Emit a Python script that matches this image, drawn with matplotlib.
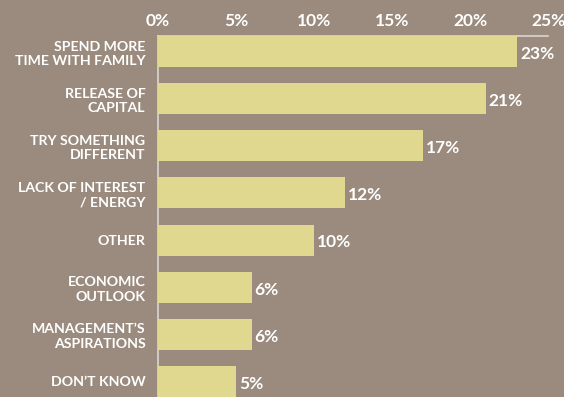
"""Reasons for selling: horizontal bar chart."""

import matplotlib
matplotlib.use("Agg")
import matplotlib.pyplot as plt

BG = "#9a8b7e"
BAR = "#e0d88f"
LINE = "#dcd6cf"

categories = [
    "SPEND MORE\nTIME WITH FAMILY",
    "RELEASE OF\nCAPITAL",
    "TRY SOMETHING\nDIFFERENT",
    "LACK OF INTEREST\n/ ENERGY",
    "OTHER",
    "ECONOMIC\nOUTLOOK",
    "MANAGEMENT\u2019S\nASPIRATIONS",
    "DON\u2019T KNOW",
]
values = [23, 21, 17, 12, 10, 6, 6, 5]
ticks = [0, 5, 10, 15, 20, 25]
tick_labels = [f"{t}%" for t in ticks]

plt.rcParams["font.family"] = ["Lato", "DejaVu Sans"]

fig = plt.figure(figsize=(5.64, 3.97), dpi=100, facecolor=BG)
ax = fig.add_axes([158 / 564, 0, 390 / 564, 361 / 397])
ax.set_facecolor(BG)

ypos = list(range(len(values)))
ax.barh(ypos, values, height=0.66, color=BAR, zorder=2)
ax.set_xlim(0, 25)
ax.set_ylim(len(values) - 1 + 0.33, -0.33)

ax.xaxis.tick_top()
ax.set_xticks(ticks)
ax.set_xticklabels(tick_labels, color="white", fontsize=12.5, fontweight="bold")
ax.tick_params(axis="x", length=0, pad=5)
ax.set_yticks(ypos)
ax.set_yticklabels(categories, color="white", fontsize=10.2, fontweight="bold",
                   linespacing=1.25)
ax.tick_params(axis="y", length=0, pad=9)

for side in ("right", "bottom"):
    ax.spines[side].set_visible(False)
for side in ("top", "left"):
    ax.spines[side].set_color(LINE)
    ax.spines[side].set_linewidth(1.2)
    ax.spines[side].set_zorder(1)

for y, v in zip(ypos, values):
    ax.text(v + 0.2, y + 0.05, f"{v}%", va="center", ha="left",
            color="white", fontsize=12.5, fontweight="bold")

fig.savefig("out.png", dpi=100, facecolor=BG)
